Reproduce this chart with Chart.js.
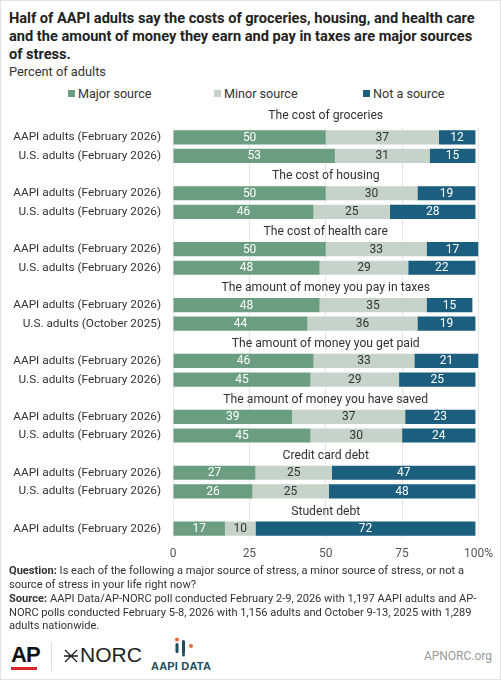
<!DOCTYPE html>
<html>
<head>
<meta charset="utf-8">
<script src="https://cdn.jsdelivr.net/npm/chart.js@4.4.1/dist/chart.umd.min.js"></script>
<style>
  html, body { margin: 0; padding: 0; background: #fff; }
  #frame { position: relative; width: 501px; height: 680px; box-sizing: border-box; border: 1px solid #e2e2e2; font-family: Roboto, sans-serif; color: #333; overflow: hidden; }
  .title { position: absolute; left: 8px; top: 8px; font-size: 14.6px; line-height: 18px; font-weight: bold; color: #222; white-space: nowrap; }
  .subtitle { position: absolute; left: 8px; top: 63px; font-size: 12.8px; line-height: 16px; color: #333; }
  .legend-item { position: absolute; top: 85px; font-size: 12.6px; line-height: 16px; color: #333; white-space: nowrap; }
  .legend-item i { display: inline-block; width: 7px; height: 7px; margin-right: 3px; vertical-align: 1px; }
  #chartBox { position: absolute; left: 0; top: 100px; width: 501px; height: 465px; }
  .notes { position: absolute; left: 8px; top: 563px; font-size: 11.1px; line-height: 13.5px; color: #333; white-space: nowrap; }
  .notes p { margin: 0; }
  .notes p + p { margin-top: 1px; }
  .ap { position: absolute; left: 10px; top: 641px; font-family: "Liberation Sans", Arial, sans-serif; font-weight: bold; font-size: 22px; letter-spacing: -1px; color: #111; }
  .ap-bar { position: absolute; left: 10px; top: 666px; width: 26px; height: 3px; background: #d7262b; }
  .sep { position: absolute; left: 50px; top: 641px; width: 1px; height: 29px; background: #ddd; }
  .norc { position: absolute; left: 62px; top: 642px; font-family: "Liberation Sans", Arial, sans-serif; font-size: 21px; color: #222; }
  .norc svg { vertical-align: -1px; margin-right: 1px; }
  .aapi-icon { position: absolute; left: 172px; top: 636px; }
  .aapi { position: absolute; left: 150px; top: 659px; font-family: "Liberation Sans", Arial, sans-serif; font-weight: bold; font-size: 11px; color: #1e4d5c; letter-spacing: 0.2px; }
  .site { position: absolute; right: 8px; top: 648px; font-size: 12px; color: #999; }
</style>
</head>
<body>
<div id="frame">
  <div class="title">Half of AAPI adults say the costs of groceries, housing, and health care<br>and the amount of money they earn and pay in taxes are major sources<br>of stress.</div>
  <div class="subtitle">Percent of adults</div>
  <div class="legend-item" style="left:67px"><i style="background:#6b9e80"></i>Major source</div>
  <div class="legend-item" style="left:213px"><i style="background:#c5d3c9"></i>Minor source</div>
  <div class="legend-item" style="left:362px"><i style="background:#1b5e7e"></i>Not a source</div>
  <div id="chartBox"><canvas id="stressChart"></canvas></div>
  <div class="notes">
    <p><b>Question:</b> Is each of the following a major source of stress, a minor source of stress, or not a<br>source of stress in your life right now?</p>
    <p><b>Source:</b> AAPI Data/AP-NORC poll conducted February 2-9, 2026 with 1,197 AAPI adults and AP-<br>NORC polls conducted February 5-8, 2026 with 1,156 adults and October 9-13, 2025 with 1,289<br>adults nationwide.</p>
  </div>
  <div class="ap">AP</div>
  <div class="ap-bar"></div>
  <div class="sep"></div>
  <div class="norc"><svg width="16" height="14" viewBox="0 0 16 14"><path d="M2 1 L14 13 M14 1 L2 13 M1 7 L15 7" stroke="#222" stroke-width="1.3" fill="none"/></svg>NORC</div>
  <svg class="aapi-icon" width="24" height="20" viewBox="0 0 24 20">
    <circle cx="4" cy="2.5" r="2" fill="#e8693c"/>
    <circle cx="18" cy="9" r="2" fill="#e8693c"/>
    <rect x="2.5" y="6" width="3" height="10" rx="1.5" fill="#1e4d5c"/>
    <rect x="9" y="3" width="3" height="14" rx="1.5" fill="#1e4d5c"/>
    <circle cx="10.5" cy="18" r="1.5" fill="#1e4d5c"/>
  </svg>
  <div class="aapi">AAPI DATA</div>
  <div class="site">APNORC.org</div>
</div>
<script>
// 各項目のストレス源(%)
const topics = [
  'The cost of groceries',
  'The cost of housing',
  'The cost of health care',
  'The amount of money you pay in taxes',
  'The amount of money you get paid',
  'The amount of money you have saved',
  'Credit card debt',
  'Student debt'
];
const groupLabels = [
  ['AAPI adults (February 2026)', 'U.S. adults (February 2026)'],
  ['AAPI adults (February 2026)', 'U.S. adults (February 2026)'],
  ['AAPI adults (February 2026)', 'U.S. adults (February 2026)'],
  ['AAPI adults (February 2026)', 'U.S. adults (October 2025)'],
  ['AAPI adults (February 2026)', 'U.S. adults (February 2026)'],
  ['AAPI adults (February 2026)', 'U.S. adults (February 2026)'],
  ['AAPI adults (February 2026)', 'U.S. adults (February 2026)'],
  ['AAPI adults (February 2026)']
];
const majorSource = [[50, 53], [50, 46], [50, 48], [48, 44], [46, 45], [39, 45], [27, 26], [17]];
const minorSource = [[37, 31], [30, 25], [33, 29], [35, 36], [33, 29], [37, 30], [25, 25], [10]];
const notSource = [[12, 15], [19, 28], [17, 22], [15, 19], [21, 25], [23, 24], [47, 48], [72]];
const xTicks = [0, 25, 50, 75, 100];

const colors = {
  major: '#6b9e80',
  minor: '#c5d3c9',
  not: '#1b5e7e',
  text: '#333333',
  grid: '#e6e6e6'
};

// 見出し行(空行)を挟んで行を並べる
const rowLabels = [];
const headerRows = [];
groupLabels.forEach((labels, g) => {
  if (g > 0) {
    headerRows.push(rowLabels.length);
    rowLabels.push('');
  } else {
    headerRows.push(-1);
  }
  labels.forEach(l => rowLabels.push(l));
});

function spread(values) {
  const out = [];
  values.forEach((vals, g) => {
    if (g > 0) out.push(null);
    vals.forEach(v => out.push(v));
  });
  return out;
}

// 値ラベルと項目見出しを描く
const annotations = {
  id: 'annotations',
  afterDatasetsDraw(chart) {
    const { ctx, chartArea, scales } = chart;
    ctx.save();
    ctx.textAlign = 'center';
    ctx.textBaseline = 'middle';
    ctx.font = '12px Roboto';
    chart.data.datasets.forEach((ds, i) => {
      const meta = chart.getDatasetMeta(i);
      meta.data.forEach((bar, j) => {
        const v = ds.data[j];
        if (v == null) return;
        ctx.fillStyle = ds.labelColor;
        ctx.fillText(v, (bar.x + bar.base) / 2, bar.y + 0.5);
      });
    });

    ctx.font = '12.2px Roboto';
    ctx.fillStyle = colors.text;
    const cx = (chartArea.left + chartArea.right) / 2;
    const rowH = scales.y.getPixelForValue(1) - scales.y.getPixelForValue(0);
    topics.forEach((t, g) => {
      const y = headerRows[g] < 0
        ? scales.y.getPixelForValue(0) - rowH - 3
        : scales.y.getPixelForValue(headerRows[g]) + 1.5;
      ctx.fillText(t, cx, y);
    });
    ctx.restore();
  }
};

const ctx = document.getElementById('stressChart').getContext('2d');
new Chart(ctx, {
  type: 'bar',
  data: {
    labels: rowLabels,
    datasets: [
      { label: 'Major source', data: spread(majorSource), backgroundColor: colors.major, labelColor: '#ffffff' },
      { label: 'Minor source', data: spread(minorSource), backgroundColor: colors.minor, labelColor: colors.text },
      { label: 'Not a source', data: spread(notSource), backgroundColor: colors.not, labelColor: '#ffffff' }
    ]
  },
  options: {
    indexAxis: 'y',
    responsive: true,
    maintainAspectRatio: false,
    animation: false,
    categoryPercentage: 1,
    barPercentage: 0.76,
    layout: { padding: { top: 27, right: 23, left: 0, bottom: 0 } },
    plugins: {
      legend: { display: false },
      tooltip: { enabled: false }
    },
    scales: {
      x: {
        stacked: true,
        min: 0,
        max: 100,
        afterBuildTicks: scale => { scale.ticks = xTicks.map(v => ({ value: v })); },
        afterFit: scale => { scale.height = 28; },
        grid: { color: colors.grid, drawTicks: false },
        border: { display: false },
        ticks: {
          padding: 9,
          color: '#555',
          font: { family: 'Roboto', size: 12 },
          callback: v => (v === 100 ? '100%' : v)
        }
      },
      y: {
        stacked: true,
        afterFit: scale => { scale.width = 172; },
        grid: { display: false, drawTicks: false },
        border: { display: false },
        ticks: {
          padding: 12,
          color: colors.text,
          font: { family: 'Roboto', size: 11.8 },
          autoSkip: false
        }
      }
    }
  },
  plugins: [annotations]
});
</script>
</body>
</html>
